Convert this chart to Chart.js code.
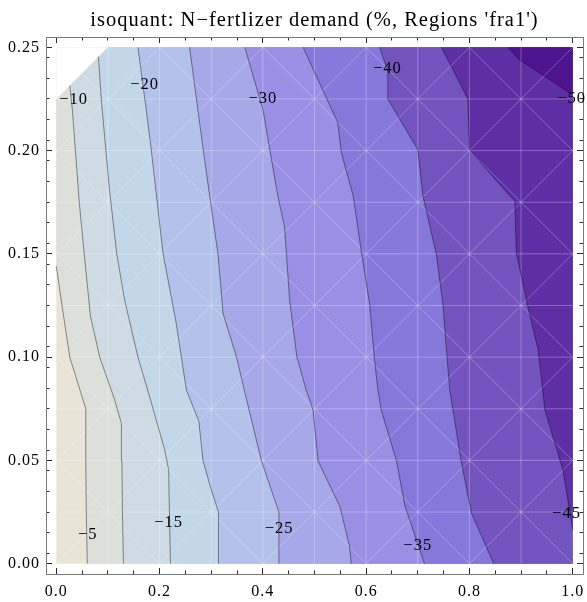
<!DOCTYPE html>
<html>
<head>
<meta charset="utf-8">
<script src="https://cdn.jsdelivr.net/npm/chart.js@4.4.1/dist/chart.umd.min.js"></script>
<style>
html,body{margin:0;padding:0;background:#fff;}
#wrap{width:587px;height:602px;position:relative;}
</style>
</head>
<body>
<div id="wrap"><canvas id="c"></canvas></div>
<script>
// ---------- data ----------
const titleText = "isoquant: N\u2212fertlizer demand (%, Regions 'fra1')";
const levels = [-5, -10, -15, -20, -25, -30, -35, -40, -45, -50];
// band colours: > -5, -5..-10, ..., < -50
const bandColors = ['#EAE4D6', '#DCDFDA', '#CEDBE3', '#C2D8E8', '#B4C1EA', '#A6A8E7',
                    '#9990E6', '#8677DB', '#7354BE', '#5E2FA4', '#4E1490'];
// data grid (mesh)
const gridX = [0, 0.1, 0.2, 0.3, 0.4, 0.5, 0.6, 0.7, 0.8, 0.9, 1.0];
const gridY = [0, 0.025, 0.05, 0.075, 0.1, 0.125, 0.15, 0.175, 0.2, 0.225, 0.25];
// contour lines [x, y], from start to end
const contour5  = [[0.060,0],[0.058,0.025],[0.057,0.05],[0.057,0.075],[0.026,0.1],[0.011,0.125],[0,0.144]];
const contour10 = [[0.130,0],[0.128,0.025],[0.127,0.05],[0.126,0.068],[0.112,0.08],[0.084,0.1],[0.066,0.12],[0.054,0.15],[0.044,0.176],[0.037,0.2],[0.031,0.22],[0.026,0.2315]];
const contour15 = [[0.221,0],[0.219,0.025],[0.2175,0.0455],[0.21,0.055],[0.177,0.084],[0.158,0.1],[0.132,0.128],[0.117,0.15],[0.103,0.181],[0.096,0.2],[0.087,0.225],[0.0815,0.2455]];
const contour20 = [[0.314,0],[0.314,0.025],[0.298,0.0375],[0.284,0.05],[0.276,0.069],[0.252,0.084],[0.232,0.1166],[0.2065,0.1505],[0.194,0.178],[0.184,0.2],[0.174,0.22],[0.158,0.25]];
const contour25 = [[0.431,0],[0.431,0.025],[0.397,0.05],[0.364,0.084],[0.349,0.1],[0.323,0.121],[0.313,0.15],[0.297,0.178],[0.282,0.205],[0.258,0.25]];
const contour30 = [[0.571,0],[0.568,0.0084],[0.549,0.0278],[0.507,0.0496],[0.497,0.0746],[0.484,0.084],[0.466,0.1],[0.452,0.127],[0.442,0.163],[0.429,0.178],[0.40,0.22],[0.365,0.25]];
const contour35 = [[0.713,0],[0.675,0.028],[0.659,0.0496],[0.629,0.0746],[0.623,0.084],[0.616,0.099],[0.607,0.1255],[0.591,0.1505],[0.575,0.178],[0.552,0.199],[0.545,0.2135],[0.478,0.25]];
const contour40 = [[0.847,0],[0.804,0.0245],[0.784,0.0496],[0.762,0.084],[0.755,0.105],[0.749,0.125],[0.736,0.1497],[0.710,0.178],[0.700,0.2005],[0.642,0.225],[0.642,0.2385],[0.626,0.25]];
const contour45 = [[1.0,0.0165],[0.994,0.026],[0.981,0.0455],[0.946,0.0746],[0.942,0.084],[0.933,0.1037],[0.913,0.1247],[0.891,0.1505],[0.888,0.1755],[0.868,0.181],[0.80,0.2005],[0.797,0.225],[0.746,0.25]];
const contour50 = [[1.0,0.227],[0.897,0.244],[0.875,0.25]];
const contours = [contour5, contour10, contour15, contour20, contour25, contour30, contour35, contour40, contour45, contour50];
// missing data corner (top-left)
const missingCorner = [[0, 0.225], [0.1, 0.25], [0, 0.25]];
// contour labels
const labelText = ['\u22125', '\u221210', '\u221215', '\u221220', '\u221225', '\u221230', '\u221235', '\u221240', '\u221245', '\u221250'];
const labelX = [0.0607, 0.0335, 0.2176, 0.171, 0.4316, 0.400, 0.700, 0.641, 0.988, 0.998];
const labelY = [0.0141, 0.2248, 0.0199, 0.2318, 0.0170, 0.2253, 0.0087, 0.2398, 0.0240, 0.2253];
// ticks
const xTickLabels = ['0.0', '0.2', '0.4', '0.6', '0.8', '1.0'];
const yTickLabels = ['0.00', '0.05', '0.10', '0.15', '0.20', '0.25'];

// ---------- build ----------
const X0 = gridX[0], X1 = gridX[gridX.length - 1];
const Y0 = gridY[0], Y1 = gridY[gridY.length - 1];
const PADX = 0.02 * (X1 - X0), PADY = 0.02 * (Y1 - Y0);
const XLO = X0 - PADX, XHI = X1 + PADX, YLO = Y0 - PADY, YHI = Y1 + PADY;

const toPts = arr => arr.map(p => ({x: p[0], y: p[1]}));
function regionPolygon(line) {
  const pts = toPts(line);
  const s = line[0], e = line[line.length - 1];
  pts.push({x: e[0], y: Y1});
  pts.push({x: X1, y: Y1});
  if (s[1] === Y0) pts.push({x: X1, y: Y0});
  pts.push({x: s[0], y: s[1]});
  return pts;
}
function meshPoints() {
  const pts = [];
  const n = gridX.length - 1, m = gridY.length - 1;
  const seg = (i0, j0, i1, j1) => {
    pts.push({x: gridX[i0], y: gridY[j0]}, {x: gridX[i1], y: gridY[j1]}, {x: gridX[i1], y: null});
  };
  for (let i = 1; i < n; i++) seg(i, 0, i, m);
  for (let j = 1; j < m; j++) seg(0, j, n, j);
  for (let c = -(m - 2); c <= n - 2; c += 2) { // u - v = c
    const u0 = Math.max(0, c), u1 = Math.min(n, m + c);
    seg(u0, u0 - c, u1, u1 - c);
  }
  for (let c = 2; c <= n + m - 2; c += 2) { // u + v = c
    const u0 = Math.max(0, c - m), u1 = Math.min(n, c);
    seg(u0, c - u0, u1, c - u1);
  }
  return pts;
}

const datasets = [];
const poly = (data, color, order) => ({
  data, order, backgroundColor: color, borderWidth: 0, borderColor: 'rgba(0,0,0,0)',
  fill: 'shape', pointRadius: 0, tension: 0, xAxisID: 'x', yAxisID: 'y'
});
datasets.push(poly(toPts([[X0, Y0], [X1, Y0], [X1, Y1], [X0, Y1]]), bandColors[0], 100));
contours.forEach((c, k) => datasets.push(poly(regionPolygon(c), bandColors[k + 1], 99 - k)));
datasets.push({data: meshPoints(), order: 50, borderColor: 'rgba(255,255,255,0.28)', borderWidth: 1,
  fill: false, pointRadius: 0, tension: 0, spanGaps: false, xAxisID: 'x', yAxisID: 'y'});
datasets.push(poly(toPts(missingCorner), '#ffffff', 40));
contours.forEach((c, k) => datasets.push({data: toPts(c), order: 30 - k, borderColor: 'rgba(0,0,0,0.42)',
  borderWidth: 1, fill: false, pointRadius: 0, tension: 0, xAxisID: 'x', yAxisID: 'y'}));

Chart.defaults.font.family = "'Liberation Serif', 'Times New Roman', serif";
Chart.defaults.color = '#000';

const FRAME = '#7a7a7a', TICK = '#2a2a2a';

function frameAxis(axis, position, min, max, step, labels, size, padding, showLabels) {
  return {
    type: 'linear', axis, position, min, max,
    border: {display: true, color: FRAME, width: 1},
    grid: {drawOnChartArea: false, drawTicks: true, tickLength: -6, tickColor: TICK, tickWidth: 1},
    ticks: {
      stepSize: step, includeBounds: false, autoSkip: false, maxRotation: 0, minRotation: 0,
      padding, font: {size: 16}, color: '#000',
      callback: v => showLabels ? (labels[Math.round((v - (axis === 'x' ? X0 : Y0)) / step)] ?? '') : ''
    },
    afterFit: s => {
      if (axis === 'x') s.height = size; else s.width = size;
      s.paddingLeft = 0; s.paddingRight = 0; s.paddingTop = 0; s.paddingBottom = 0;
    }
  };
}
function minorAxis(axis, position, min, max, step, tl) {
  return {
    type: 'linear', axis, position, min, max,
    border: {display: false},
    grid: {drawOnChartArea: false, drawTicks: true, tickLength: tl, tickColor: TICK, tickWidth: 1},
    ticks: {stepSize: step, includeBounds: false, autoSkip: false, maxRotation: 0, callback: () => ''},
    afterFit: s => { s.paddingLeft = 0; s.paddingRight = 0; s.paddingTop = 0; s.paddingBottom = 0; }
  };
}

const clabelPlugin = {
  id: 'clabels',
  afterDatasetsDraw(chart) {
    const {ctx} = chart, xs = chart.scales.x, ys = chart.scales.y;
    ctx.save();
    ctx.font = "16.5px 'Liberation Serif'";
    ctx.fillStyle = '#000';
    ctx.textAlign = 'center';
    ctx.textBaseline = 'middle';
    labelText.forEach((t, i) => ctx.fillText(t, xs.getPixelForValue(labelX[i]), ys.getPixelForValue(labelY[i])));
    ctx.restore();
  }
};
const spacingPlugin = {
  id: 'spacing',
  beforeDraw(chart) { try { chart.ctx.letterSpacing = '1px'; } catch (e) {} }
};

new Chart(document.getElementById('c'), {
  type: 'line',
  data: {datasets},
  options: {
    responsive: true, maintainAspectRatio: false, animation: false, events: [],
    layout: {padding: 0},
    plugins: {
      legend: {display: false}, tooltip: {enabled: false},
      title: {display: true, text: titleText, fullSize: false, color: '#000',
        font: {size: 20.5, weight: 'normal', lineHeight: '20px'}, padding: {top: 11, bottom: 5}}
    },
    scales: {
      x: frameAxis('x', 'bottom', XLO, XHI, 0.2, xTickLabels, 28, 14, true),
      y: frameAxis('y', 'left', YLO, YHI, 0.05, yTickLabels, 46, 12, true),
      x2: frameAxis('x', 'top', XLO, XHI, 0.2, xTickLabels, 1, 0, false),
      y2: frameAxis('y', 'right', YLO, YHI, 0.05, yTickLabels, 4, 0, false),
      xmb: minorAxis('x', {y: YLO}, XLO, XHI, 0.05, -3.5),
      xmt: minorAxis('x', {y: YHI}, XLO, XHI, 0.05, 3.5),
      yml: minorAxis('y', {x: XLO}, YLO, YHI, 0.01, -3.5),
      ymr: minorAxis('y', {x: XHI}, YLO, YHI, 0.01, 3.5)
    }
  },
  plugins: [clabelPlugin, spacingPlugin]
});
</script>
</body>
</html>
